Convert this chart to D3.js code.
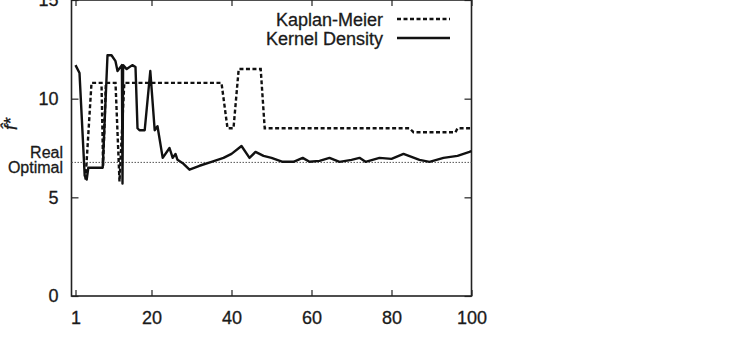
<!DOCTYPE html>
<html>
<head>
<meta charset="utf-8">
<script src="https://cdn.jsdelivr.net/npm/d3@7"></script>
<style>
  body { margin: 0; background: #fff; }
  svg { display: block; font-family: 'Liberation Sans', Arial, sans-serif; }
  .tick text { font-size: 18px; fill: #1a1a1a; stroke: #1a1a1a; stroke-width: 0.3px; }
  .domain { display: none; }
  .tick line { stroke: #222; stroke-width: 1.2px; }
</style>
</head>
<body>
<div id="chart"></div>
<script>
(() => {

  const widthSvg = 737;
  const heightSvg = 338;

  // series: [x, y]
  const kaplanX = [3.5, 5, 7.5, 7.9, 8.6, 11, 12, 13.2, 37.5, 39, 40.5, 41.8, 47.3, 48.3, 84.5, 85.5, 96, 96.5, 100];
  const kaplanY = [5.9, 10.8, 10.8, 6.6, 10.8, 10.8, 5.8, 10.8, 10.8, 8.5, 8.5, 11.5, 11.5, 8.5, 8.5, 8.3, 8.3, 8.5, 8.5];

  const kernelX = [1, 2, 3.3, 3.8, 4.2, 7.8, 9, 10, 11, 11.5, 12.6, 12.75, 12.9, 13.8, 15.2, 16, 16.5, 17, 18.3, 19.7,
    20.8, 21.5, 22.8, 24.5, 25.3, 26, 26.5, 28, 29.5, 32, 35, 38, 40, 42.5, 44.5, 46, 48, 50, 52.8, 55.5,
    57.8, 59.5, 62, 64.5, 67, 70, 72, 73.5, 77, 80, 83, 87, 89.5, 93, 96.5, 99.5, 100];
  const kernelY = [11.7, 11.3, 6.1, 5.9, 6.5, 6.5, 12.2, 12.2, 11.9, 11.4, 11.7, 5.7, 11.7, 11.5, 11.7, 11.6, 8.5, 8.4, 8.4, 11.4,
    8.4, 8.6, 7.0, 7.5, 7.0, 7.2, 6.9, 6.7, 6.4, 6.6, 6.8, 7.0, 7.2, 7.6, 7.0, 7.3, 7.1, 7.0, 6.8, 6.8,
    7.0, 6.8, 6.85, 7.0, 6.8, 6.9, 7.0, 6.8, 7.0, 6.95, 7.2, 6.9, 6.8, 7.0, 7.1, 7.3, 7.35];

  const realOptimal = 6.77;

  const xTicks = [1, 20, 40, 60, 80, 100];
  const yTicks = [0, 5, 10, 15];
  const legendNames = ['Kaplan-Meier', 'Kernel Density'];

  const kaplan = kaplanX.map((x, i) => ({ x: x, y: kaplanY[i] }));
  const kernel = kernelX.map((x, i) => ({ x: x, y: kernelY[i] }));

  const scaleX = d3.scaleLinear()
    .domain([0, 100])
    .range([71.5, 471.5]);

  const scaleY = d3.scaleLinear()
    .domain([0, 15])
    .range([296, 0]);

  const svg = d3.select('#chart')
    .append('svg')
      .attr('width', widthSvg)
      .attr('height', heightSvg);

  // axes with inward ticks, gnuplot style
  svg.append('g')
    .attr('transform', `translate(0, ${scaleY(0)})`)
    .call(d3.axisBottom(scaleX).tickValues(xTicks).tickSize(-6).tickPadding(15));

  svg.append('g')
    .attr('transform', `translate(0, ${scaleY(15)})`)
    .call(d3.axisTop(scaleX).tickValues(xTicks).tickSize(-6).tickFormat(''));

  svg.append('g')
    .attr('transform', `translate(${scaleX(0)}, 0)`)
    .call(d3.axisLeft(scaleY).tickValues(yTicks).tickSize(-7).tickPadding(13));

  svg.append('g')
    .attr('transform', `translate(${scaleX(100)}, 0)`)
    .call(d3.axisRight(scaleY).tickValues(yTicks).tickSize(-7).tickFormat(''));

  // frame
  svg.append('rect')
    .attr('x', scaleX(0))
    .attr('y', scaleY(15))
    .attr('width', scaleX(100) - scaleX(0))
    .attr('height', scaleY(0) - scaleY(15))
    .attr('fill', 'none')
    .attr('stroke', '#222')
    .attr('stroke-width', 1.6);

  // real optimal reference line
  svg.append('line')
    .attr('x1', scaleX(0))
    .attr('x2', scaleX(100))
    .attr('y1', scaleY(realOptimal))
    .attr('y2', scaleY(realOptimal))
    .attr('stroke', '#555')
    .attr('stroke-width', 1)
    .attr('stroke-dasharray', '1.5,1.5');

  const labelReal = svg.append('text')
    .attr('text-anchor', 'end')
    .attr('font-size', '16px')
    .attr('fill', '#1a1a1a')
    .attr('stroke', '#1a1a1a')
    .attr('stroke-width', 0.3);
  labelReal.append('tspan').attr('x', 63).attr('y', 158).text('Real');
  labelReal.append('tspan').attr('x', 63).attr('y', 173).text('Optimal');

  // y label
  svg.append('text')
    .text('f̂*')
    .attr('font-size', '18px')
    .attr('font-style', 'italic')
    .attr('fill', '#1a1a1a')
    .attr('stroke', '#1a1a1a')
    .attr('stroke-width', 0.3)
    .attr('text-anchor', 'middle')
    .attr('transform', 'translate(17, 124)rotate(-90)');

  const line = d3.line()
    .x(d => scaleX(d.x))
    .y(d => scaleY(d.y));

  svg.append('path')
    .datum(kaplan)
    .attr('d', line)
    .attr('fill', 'none')
    .attr('stroke', '#111')
    .attr('stroke-width', 2.4)
    .attr('stroke-dasharray', '4,2.5');

  svg.append('path')
    .datum(kernel)
    .attr('d', line)
    .attr('fill', 'none')
    .attr('stroke', '#111')
    .attr('stroke-width', 2.4)
    .attr('stroke-linejoin', 'round');

  // legend
  const legend = svg.append('g');
  const dashes = ['4,2.5', null];

  legendNames.forEach((name, i) => {
    const row = legend.append('g')
      .attr('transform', `translate(0, ${19 + i * 19})`);

    row.append('text')
      .attr('x', 383)
      .attr('y', 6.5)
      .attr('text-anchor', 'end')
      .attr('font-size', '18px')
      .attr('fill', '#1a1a1a')
      .attr('stroke', '#1a1a1a')
      .attr('stroke-width', 0.3)
      .text(name);

    row.append('line')
      .attr('x1', 397)
      .attr('x2', 450)
      .attr('stroke', '#111')
      .attr('stroke-width', 2.4)
      .attr('stroke-dasharray', dashes[i]);
  });

})();
</script>
</body>
</html>
